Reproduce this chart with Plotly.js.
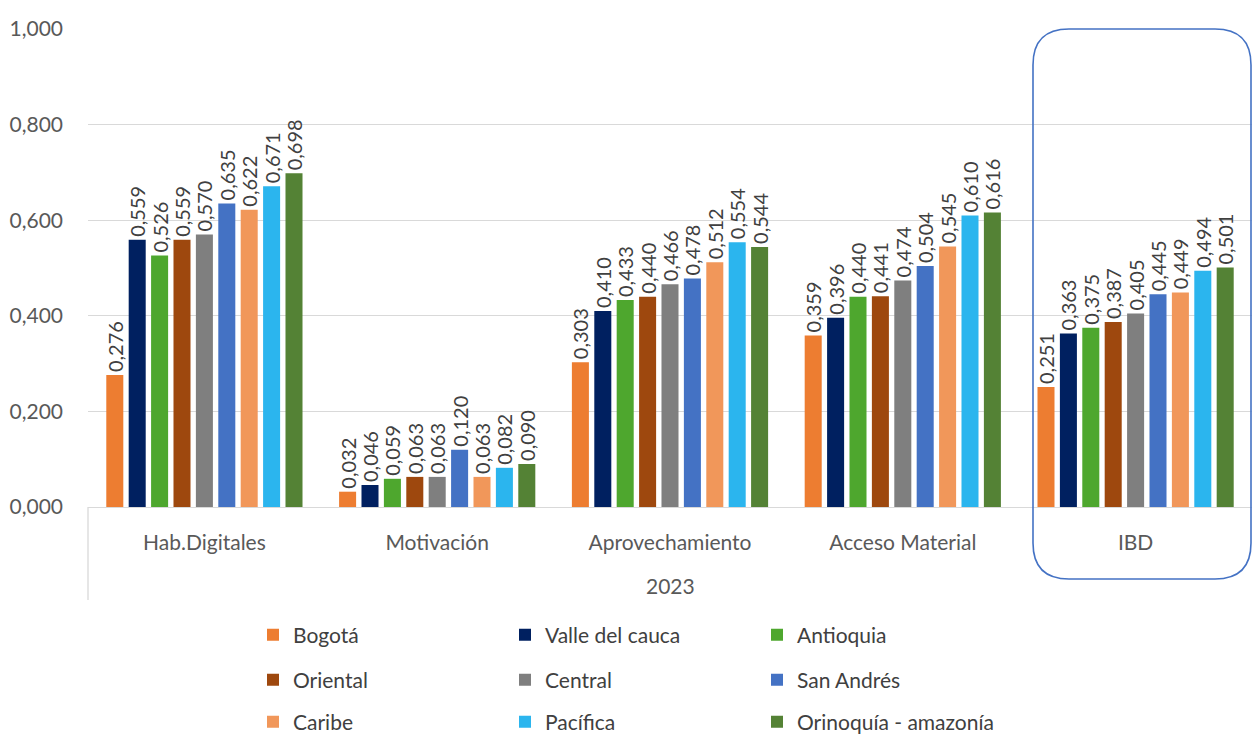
<!DOCTYPE html>
<html>
<head>
<meta charset="utf-8">
<script src="https://cdn.plot.ly/plotly-3.0.1.min.js"></script>
<style>html,body{margin:0;padding:0;background:#fff;}#chart{width:1252px;height:738px;}</style>
</head>
<body>
<div id="chart"></div>
<script>
const categories = ['Hab.Digitales', 'Motivación', 'Aprovechamiento', 'Acceso Material', 'IBD'];
const groupLabel = '2023';
const seriesNames = ['Bogotá', 'Valle del cauca', 'Antioquia', 'Oriental', 'Central', 'San Andrés', 'Caribe', 'Pacífica', 'Orinoquía - amazonía'];
const bogota     = [0.276, 0.032, 0.303, 0.359, 0.251];
const valle      = [0.559, 0.046, 0.410, 0.396, 0.363];
const antioquia  = [0.526, 0.059, 0.433, 0.440, 0.375];
const oriental   = [0.559, 0.063, 0.440, 0.441, 0.387];
const central    = [0.570, 0.063, 0.466, 0.474, 0.405];
const sanAndres  = [0.635, 0.120, 0.478, 0.504, 0.445];
const caribe     = [0.622, 0.063, 0.512, 0.545, 0.449];
const pacifica   = [0.671, 0.082, 0.554, 0.610, 0.494];
const orinoquia  = [0.698, 0.090, 0.544, 0.616, 0.501];
const yTicks = [0, 0.2, 0.4, 0.6, 0.8, 1.0];

const seriesValues = [bogota, valle, antioquia, oriental, central, sanAndres, caribe, pacifica, orinoquia];
const colors = ['#ED7D31', '#002060', '#4EA72E', '#9E480E', '#7F7F7F', '#4472C4', '#F1975A', '#2BB5EE', '#548235'];
const legendIds = ['legend', 'legend', 'legend', 'legend2', 'legend2', 'legend2', 'legend3', 'legend3', 'legend3'];

const FONT = 'Lato, "Open Sans", sans-serif';
const traces = seriesNames.map((name, i) => ({
  type: 'bar',
  name: name,
  x: categories,
  y: seriesValues[i],
  marker: {color: colors[i]},
  texttemplate: '%{y:.3f}',
  textposition: 'outside',
  textangle: -90,
  constraintext: 'none',
  cliponaxis: false,
  textfont: {family: FONT, size: 20, color: '#404040'},
  legend: legendIds[i],
  hoverinfo: 'skip'
}));

const L = 88, W = 1164, T = 29, H = 478, FULLH = 738;
const px = v => (v - L) / W;
const py = v => (T + H - v) / H;
const cyRef = v => 1 - v / FULLH;

// rounded rectangle around IBD group (paper coordinates)
const rx0 = px(1033), rx1 = px(1251), ry0 = py(579), ry1 = py(29);
const cx = 36 / W, cy = 36 / H;
const roundRect = `M ${rx0 + cx},${ry1} L ${rx1 - cx},${ry1} Q ${rx1},${ry1} ${rx1},${ry1 - cy} ` +
  `L ${rx1},${ry0 + cy} Q ${rx1},${ry0} ${rx1 - cx},${ry0} L ${rx0 + cx},${ry0} ` +
  `Q ${rx0},${ry0} ${rx0},${ry0 + cy} L ${rx0},${ry1 - cy} Q ${rx0},${ry1} ${rx0 + cx},${ry1} Z`;

const legendBase = {
  orientation: 'h', xanchor: 'left', yanchor: 'middle',
  xref: 'paper', yref: 'container',
  font: {family: FONT, size: 21, color: '#404040'},
  entrywidth: 207, itemwidth: 30, tracegroupgap: 0,
  bgcolor: 'rgba(0,0,0,0)'
};

const layout = {
  width: 1252, height: FULLH,
  margin: {l: L, r: 0, t: T, b: FULLH - T - H, pad: 0, autoexpand: false},
  paper_bgcolor: '#ffffff', plot_bgcolor: '#ffffff',
  separators: ',.',
  font: {family: FONT, color: '#595959'},
  barmode: 'group', bargap: 0.134, bargroupgap: 0.24,
  xaxis: {
    type: 'category', showgrid: false, showline: true, linecolor: '#D9D9D9', linewidth: 1.3,
    ticks: '', ticklabelstandoff: 16,
    tickfont: {family: FONT, size: 21, color: '#595959'},
    fixedrange: true
  },
  yaxis: {
    range: [0, 1], tickvals: yTicks, tickformat: '.3f',
    showgrid: true, gridcolor: '#D9D9D9', gridwidth: 1.3, zeroline: false, showline: false,
    ticks: '', ticklabelstandoff: 24,
    tickfont: {family: FONT, size: 21, color: '#595959'},
    fixedrange: true
  },
  legend: Object.assign({}, legendBase, {x: px(253), y: cyRef(635)}),
  legend2: Object.assign({}, legendBase, {x: px(253), y: cyRef(680)}),
  legend3: Object.assign({}, legendBase, {x: px(253), y: cyRef(722)}),
  showlegend: true,
  annotations: [{
    text: groupLabel, xref: 'paper', yref: 'paper', x: 0.5, y: py(585),
    xanchor: 'center', yanchor: 'middle', showarrow: false,
    font: {family: FONT, size: 21, color: '#595959'}
  }],
  shapes: [
    {type: 'line', xref: 'paper', yref: 'paper', x0: 0, x1: 0, y0: 0, y1: py(600),
     line: {color: '#D9D9D9', width: 1.3}},
    {type: 'path', xref: 'paper', yref: 'paper', path: roundRect,
     line: {color: '#4472C4', width: 1.6}, fillcolor: 'rgba(0,0,0,0)'}
  ]
};

Plotly.newPlot('chart', traces, layout, {displayModeBar: false, staticPlot: true});
</script>
</body>
</html>
